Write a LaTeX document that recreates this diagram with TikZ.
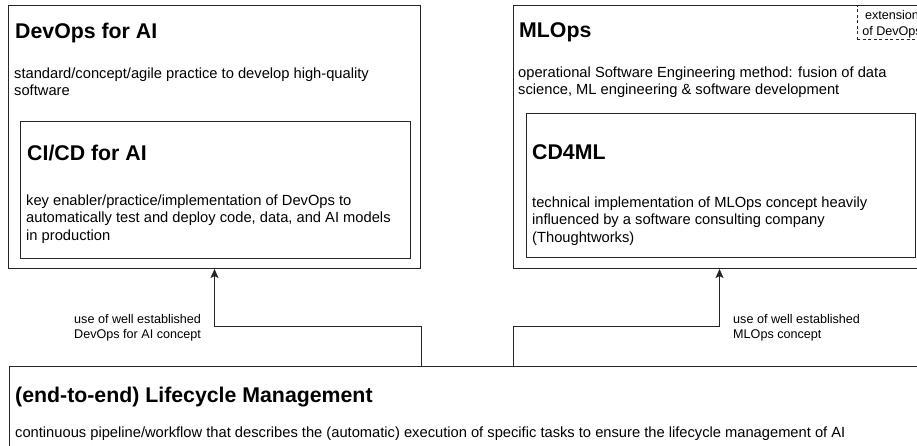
\documentclass[tikz,border=0pt]{standalone}
\usepackage{fontspec}
\setmainfont{Liberation Sans}
\usetikzlibrary{arrows.meta}
\begin{document}
\begin{tikzpicture}[x=1pt,y=-1pt,
  box/.style={draw=black!85, line width=1pt, anchor=north west, inner sep=0},
  notebox/.style={draw=black!85, line width=0.9pt, dash pattern=on 3pt off 2.5pt, anchor=north west, inner sep=0},
  ttl/.style={font=\bfseries\fontsize{21.3}{25}\selectfont, anchor=base west, inner sep=0},
  body/.style={font=\fontsize{14.7}{17.5}\selectfont, anchor=north west, inner sep=0, align=left},
  lbl/.style={font=\fontsize{12.6}{15}\selectfont, anchor=north west, inner sep=0, align=left},
  conn/.style={draw=black!85, line width=1pt, -{Stealth[length=9pt,width=8pt,inset=2pt]}},
]
\useasboundingbox (0,0) rectangle (917,445);
\fill[white] (0,0) rectangle (917,445);
\clip (0,0) rectangle (917,445);

% boxes
\node[box, minimum width=412pt, minimum height=263pt] (devops) at (8,5) {};
\node[box, minimum width=390pt, minimum height=137pt] (cicd) at (20,121) {};
\node[box, minimum width=412pt, minimum height=263pt] (mlops) at (513,5) {};
\node[box, minimum width=389pt, minimum height=144pt] (cd4ml) at (526,113) {};
\node[notebox, minimum width=80pt, minimum height=34pt] (ext) at (857,5) {};
\node[box, minimum width=1000pt, minimum height=200pt] (life) at (9,366) {};

% titles and texts
\node[ttl] (devopsT) at (15,38) {DevOps for AI};
\node[body] (devopsB) at (14,66) {\rule{0pt}{12pt}standard/concept/agile practice to develop high-quality\\software};
\node[ttl] (cicdT) at (27,160) {CI/CD for AI};
\node[body] (cicdB) at (26,193) {\rule{0pt}{12pt}key enabler/practice/implementation of DevOps to\\automatically test and deploy code, data, and AI models\\in production};
\node[ttl] (mlopsT) at (519,37) {MLOps};
\node[body] (mlopsB) at (518,65) {\rule{0pt}{12pt}operational Software Engineering method: fusion of data\\science, ML engineering \& software development};
\node[ttl] (cd4mlT) at (532,159) {CD4ML};
\node[body] (cd4mlB) at (532,195) {\rule{0pt}{12pt}technical implementation of MLOps concept heavily\\influenced by a software consulting company\\(Thoughtworks)};
\node[font=\fontsize{12.6}{16}\selectfont, anchor=north, inner sep=0, align=center] (extT) at (892,9) {\rule{0pt}{10pt}extension\\of DevOps};
\node[ttl] (lifeT) at (15,402) {(end-to-end) Lifecycle Management};
\node[body] (lifeB) at (15,425) {\rule{0pt}{12pt}continuous pipeline/workflow that describes the (automatic) execution of specific tasks to ensure the lifecycle management of AI};

% connectors
\coordinate (k) at (0,326);
\draw[conn] (devops.south east |- life.north) -- (devops.south east |- k) -- (devops.south |- k) -- (devops.south);
\draw[conn] (mlops.south west |- life.north) -- (mlops.south west |- k) -- (mlops.south |- k) -- (mlops.south);

% labels
\node[lbl] (lbl1) at (74,313) {\rule{0pt}{10pt}use of well established\\DevOps for AI concept};
\node[lbl] (lbl2) at (733,313) {\rule{0pt}{10pt}use of well established\\MLOps concept};
\end{tikzpicture}
\end{document}
